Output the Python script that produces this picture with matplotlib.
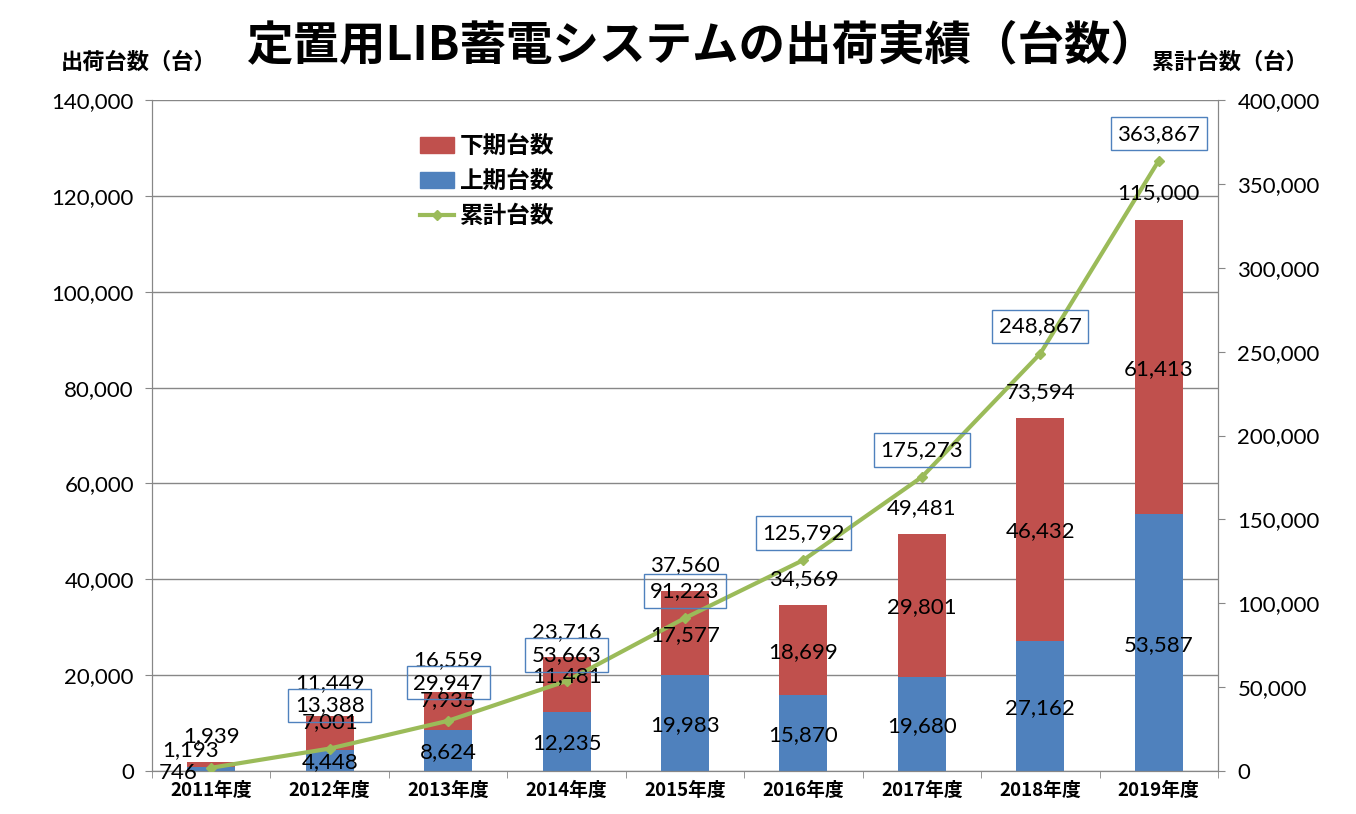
import matplotlib
matplotlib.use("Agg")
import matplotlib.pyplot as plt
import matplotlib.patches as mpatches
import matplotlib.lines as mlines
import numpy as np

plt.rcParams["font.family"] = ["Noto Sans CJK JP", "DejaVu Sans"]

years = ["2011年度", "2012年度", "2013年度", "2014年度", "2015年度",
         "2016年度", "2017年度", "2018年度", "2019年度"]
first_half = [746, 4448, 8624, 12235, 19983, 15870, 19680, 27162, 53587]
second_half = [1193, 7001, 7935, 11481, 17577, 18699, 29801, 46432, 61413]
totals = [1939, 11449, 16559, 23716, 37560, 34569, 49481, 73594, 115000]
cumulative = [1939, 13388, 29947, 53663, 91223, 125792, 175273, 248867, 363867]

red = "#C0504D"
blue = "#4F81BD"
green = "#9BBB59"
grid_gray = "#878787"

# label nudges in pixels (dx, dy), Excel moved some to avoid overlap
blue_nudge = [(-33, -4), (0, -2), (0, -2), (0, -1), (0, -2), (0, -2), (0, -2), (0, -2), (0, -2)]
red_nudge = [(-21, 14), (0, 11), (0, 11), (0, 9), (0, -2), (0, -2), (0, -2), (0, -2), (0, -2)]
total_offset = [26, 33, 32, 25, 26, 26, 26, 26, 27]
cum_offset = [None, 43, 38, 26, 27, 27, 27, 27, 27]

px = 0.72  # points per pixel at dpi 100

fig = plt.figure(figsize=(13.56, 8.14), dpi=100)
ax = fig.add_axes([0.1121, 0.0528, 0.7861, 0.8243])
ax2 = ax.twinx()

x = np.arange(len(years))
ax.bar(x, first_half, width=0.405, color=blue, zorder=2)
ax.bar(x, second_half, width=0.405, bottom=first_half, color=red, zorder=2)

ax2.plot(x, cumulative, color=green, linewidth=3, marker="D", markersize=5,
         markerfacecolor=green, markeredgecolor=green, zorder=3)

ax.set_xlim(-0.5, 8.5)
ax.set_ylim(0, 140000)
ax2.set_ylim(0, 400000)
ax.set_yticks(np.arange(0, 140001, 20000))
ax2.set_yticks(np.arange(0, 400001, 50000))
ax.yaxis.set_major_formatter(matplotlib.ticker.FuncFormatter(lambda v, p: f"{int(v):,}"))
ax2.yaxis.set_major_formatter(matplotlib.ticker.FuncFormatter(lambda v, p: f"{int(v):,}"))
ax.grid(axis="y", color=grid_gray, linewidth=1, zorder=0)
ax.set_axisbelow(True)

ax.set_xticks(x)
ax.set_xticklabels(years, fontsize=13.5, fontweight="bold")
ax.set_xticks(np.arange(-0.5, 9, 1), minor=True)
ax.tick_params(axis="x", which="major", length=0, pad=7)
ax.tick_params(axis="x", which="minor", length=5, color=grid_gray, direction="out")
ax.tick_params(axis="y", labelsize=16, length=5, color=grid_gray, pad=8)
ax2.tick_params(axis="y", labelsize=16, length=5, color=grid_gray, pad=9)
for lbl in ax.get_yticklabels() + ax2.get_yticklabels():
    lbl.set_family(["Lato", "DejaVu Sans"])

for a in (ax, ax2):
    a.spines["top"].set_visible(False)
    for s in ("left", "right", "bottom"):
        a.spines[s].set_color(grid_gray)

label_font = dict(fontsize=16, family=["Lato", "DejaVu Sans"], ha="center", va="center")

for i in range(len(years)):
    ax2.annotate(f"{first_half[i]:,}", xy=(x[i], first_half[i] / 2), xycoords=ax.transData,
                 xytext=(blue_nudge[i][0] * px, blue_nudge[i][1] * px), textcoords="offset points",
                 zorder=5, **label_font)
    ax2.annotate(f"{second_half[i]:,}", xy=(x[i], first_half[i] + second_half[i] / 2),
                 xycoords=ax.transData,
                 xytext=(red_nudge[i][0] * px, red_nudge[i][1] * px), textcoords="offset points",
                 zorder=5, **label_font)
    ax2.annotate(f"{totals[i]:,}", xy=(x[i], totals[i]), xycoords=ax.transData,
                 xytext=(0, total_offset[i] * px), textcoords="offset points", zorder=5,
                 **label_font)
    if cum_offset[i] is not None:
        ax2.annotate(f"{cumulative[i]:,}", xy=(x[i], cumulative[i]),
                     xytext=(0, cum_offset[i] * px), textcoords="offset points", zorder=6,
                     bbox=dict(boxstyle="square,pad=0.3", facecolor="none",
                               edgecolor=blue, linewidth=1),
                     **label_font)

handles = [mpatches.Patch(color=red, label="下期台数"),
           mpatches.Patch(color=blue, label="上期台数"),
           mlines.Line2D([], [], color=green, linewidth=3, marker="D", markersize=5,
                         label="累計台数")]
ax.legend(handles=handles, loc="upper left", bbox_to_anchor=(0.251, 0.949), frameon=False,
          borderaxespad=0, borderpad=0,
          prop=dict(size=17, weight="bold"), handlelength=1.45, handleheight=0.7,
          labelspacing=0.47, handletextpad=0.25)

fig.text(0.517, 0.945, "定置用LIB蓄電システムの出荷実績（台数）", ha="center", va="center",
         fontsize=33.5, fontweight="bold")
fig.text(0.102, 0.924, "出荷台数（台）", ha="center", va="center", fontsize=16, fontweight="bold")
fig.text(0.907, 0.924, "累計台数（台）", ha="center", va="center", fontsize=16, fontweight="bold")

fig.savefig("out.png", dpi=100)
